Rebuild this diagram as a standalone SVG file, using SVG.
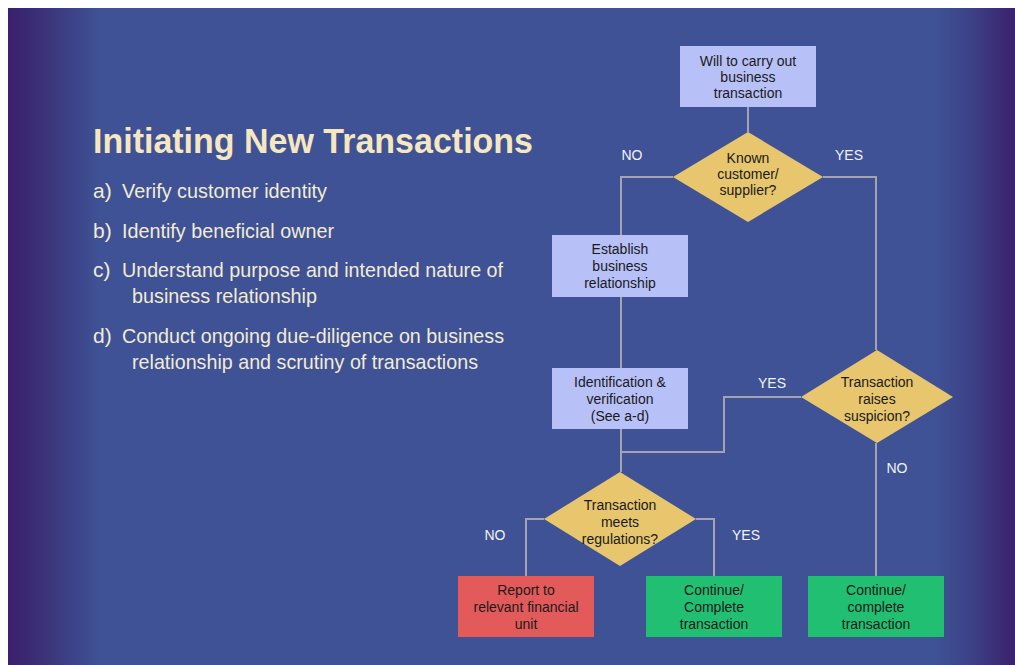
<svg xmlns="http://www.w3.org/2000/svg" width="1015" height="665" viewBox="0 0 1015 665">
<defs>
<linearGradient id="bg" x1="8" y1="0" x2="1015" y2="0" gradientUnits="userSpaceOnUse">
<stop offset="0" stop-color="#3A206E"/>
<stop offset="0.025" stop-color="#3B2C74"/>
<stop offset="0.09" stop-color="#3E5295"/>
<stop offset="0.92" stop-color="#3F5296"/>
<stop offset="0.96" stop-color="#3C3F84"/>
<stop offset="1" stop-color="#3A216E"/>
</linearGradient>
</defs>
<style>
.box{fill:#B8C0F8;}
.dia{fill:#E8C66E;}
.red{fill:#E35A5A;}
.grn{fill:#20BF72;}
.t{font-family:"Liberation Sans",Arial,sans-serif;font-size:14px;fill:#1A1A1A;text-anchor:middle;}
.lbl{font-family:"Liberation Sans",Arial,sans-serif;font-size:14px;fill:#F2F2F2;text-anchor:middle;}
.conn{fill:none;stroke:#A3A3B3;stroke-width:2;}
.title{font-family:"Liberation Sans",Arial,sans-serif;font-size:35px;font-weight:bold;fill:#F6E7BE;}
.item{font-family:"Liberation Sans",Arial,sans-serif;font-size:21px;fill:#F3EBD4;}
</style>
<rect x="0" y="0" width="1015" height="665" fill="#FFFFFF"/>
<rect x="8" y="8" width="1007" height="657" fill="url(#bg)"/>

<g id="text-panel">
<text class="title" x="93" y="153" textLength="440" lengthAdjust="spacingAndGlyphs">Initiating New Transactions</text>
<text class="item" x="93" y="198">a)</text><text class="item" x="122" y="198" textLength="205" lengthAdjust="spacingAndGlyphs">Verify customer identity</text>
<text class="item" x="93" y="238">b)</text><text class="item" x="122" y="238" textLength="212" lengthAdjust="spacingAndGlyphs">Identify beneficial owner</text>
<text class="item" x="93" y="277">c)</text><text class="item" x="122" y="277" textLength="381" lengthAdjust="spacingAndGlyphs">Understand purpose and intended nature of</text>
<text class="item" x="132" y="303" textLength="185" lengthAdjust="spacingAndGlyphs">business relationship</text>
<text class="item" x="93" y="343">d)</text><text class="item" x="122" y="343" textLength="382" lengthAdjust="spacingAndGlyphs">Conduct ongoing due-diligence on business</text>
<text class="item" x="132" y="369" textLength="346" lengthAdjust="spacingAndGlyphs">relationship and scrutiny of transactions</text>
</g>

<g id="connectors">
<path class="conn" d="M748 107 V132"/>
<path class="conn" d="M673 177 H621 V235"/>
<path class="conn" d="M823 177 H876 V350"/>
<path class="conn" d="M621 297 V368"/>
<path class="conn" d="M621 429 V472"/>
<path class="conn" d="M801 397 H724 V452 H621"/>
<path class="conn" d="M544 519 H526 V576"/>
<path class="conn" d="M696 519 H714 V576"/>
<path class="conn" d="M876 443 V576"/>
<text class="lbl" x="632" y="160">NO</text>
<text class="lbl" x="849" y="160">YES</text>
<text class="lbl" x="772" y="388">YES</text>
<text class="lbl" x="897" y="473">NO</text>
<text class="lbl" x="495" y="540">NO</text>
<text class="lbl" x="746" y="540">YES</text>
</g>

<g id="n-will">
<rect class="box" x="680" y="46" width="136" height="61"/>
<text class="t" x="748" y="66">Will to carry out</text>
<text class="t" x="748" y="82">business</text>
<text class="t" x="748" y="98">transaction</text>
</g>
<g id="n-known">
<polygon class="dia" points="748,132 823,177 748,222 673,177"/>
<text class="t" x="748" y="163">Known</text>
<text class="t" x="748" y="179">customer/</text>
<text class="t" x="748" y="195">supplier?</text>
</g>
<g id="n-establish">
<rect class="box" x="552" y="235" width="136" height="62"/>
<text class="t" x="620" y="254">Establish</text>
<text class="t" x="620" y="271">business</text>
<text class="t" x="620" y="288">relationship</text>
</g>
<g id="n-ident">
<rect class="box" x="552" y="368" width="136" height="61"/>
<text class="t" x="620" y="387">Identification &amp;</text>
<text class="t" x="620" y="404">verification</text>
<text class="t" x="620" y="421">(See a-d)</text>
</g>
<g id="n-suspicion">
<polygon class="dia" points="877,350 953,397 877,443 801,397"/>
<text class="t" x="877" y="387">Transaction</text>
<text class="t" x="877" y="404">raises</text>
<text class="t" x="877" y="421">suspicion?</text>
</g>
<g id="n-meets">
<polygon class="dia" points="620,472 696,519 620,566 544,519"/>
<text class="t" x="620" y="510">Transaction</text>
<text class="t" x="620" y="527">meets</text>
<text class="t" x="620" y="544">regulations?</text>
</g>
<g id="n-report">
<rect class="red" x="458" y="576" width="136" height="61"/>
<text class="t" x="526" y="595">Report to</text>
<text class="t" x="526" y="612">relevant financial</text>
<text class="t" x="526" y="629">unit</text>
</g>
<g id="n-continue1">
<rect class="grn" x="646" y="576" width="136" height="61"/>
<text class="t" x="714" y="595">Continue/</text>
<text class="t" x="714" y="612">Complete</text>
<text class="t" x="714" y="629">transaction</text>
</g>
<g id="n-continue2">
<rect class="grn" x="808" y="576" width="136" height="61"/>
<text class="t" x="876" y="595">Continue/</text>
<text class="t" x="876" y="612">complete</text>
<text class="t" x="876" y="629">transaction</text>
</g>
</svg>
